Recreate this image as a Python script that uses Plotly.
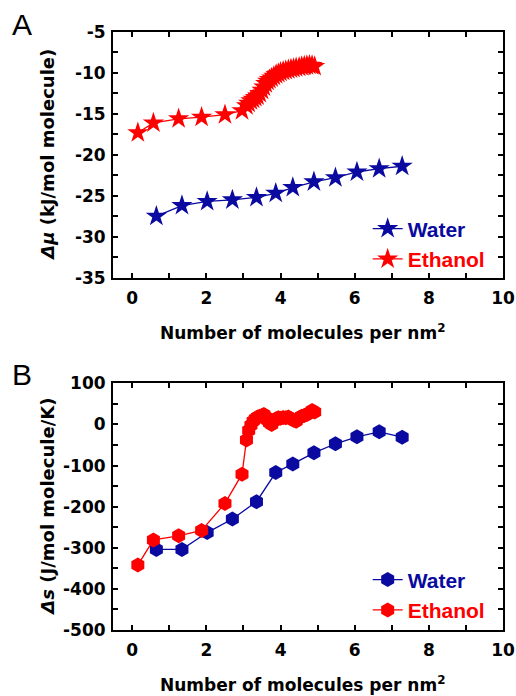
import plotly.graph_objects as go

# ---------------- data ----------------
water_x = [0.65, 1.34, 2.02, 2.70, 3.35, 3.87, 4.33, 4.90, 5.48, 6.06, 6.66, 7.28]
water_mu = [-27.5, -26.2, -25.7, -25.5, -25.2, -24.7, -24.0, -23.3, -22.8, -22.1, -21.7, -21.4]
water_s = [-304, -304, -263, -230, -188, -117, -96, -69, -47, -30, -18, -31]

ethanol_x = [0.15, 0.57, 1.25, 1.87, 2.50, 2.96, 3.08, 3.14, 3.20, 3.26, 3.32, 3.38,
             3.44, 3.50, 3.55, 3.60, 3.65, 3.70, 3.76, 3.82, 3.88, 3.94, 4.00, 4.07,
             4.14, 4.21, 4.28, 4.35, 4.42, 4.50, 4.57, 4.64, 4.71, 4.78, 4.85, 4.92]
ethanol_mu = [-17.3, -16.1, -15.6, -15.4, -15.1, -14.6, -14.0, -13.7, -13.4, -13.2, -13.0, -12.8,
              -12.5, -12.1, -11.7, -11.3, -11.0, -10.8, -10.6, -10.4, -10.2, -10.05, -9.9, -9.8,
              -9.7, -9.6, -9.5, -9.45, -9.35, -9.3, -9.2, -9.15, -9.1, -9.05, -9.1, -9.2]
ethanol_s = [-342, -281, -271, -258, -192, -121, -38, -15, -2, 8, 14, 18,
             20, 22, 24, 18, 10, 4, 0, 8, 14, 16, 15, 17,
             16, 18, 14, 10, 8, 16, 20, 22, 24, 28, 34, 30]

x_ticks = [0, 2, 4, 6, 8, 10]
mu_ticks = [-35, -30, -25, -20, -15, -10, -5]
s_ticks = [-500, -400, -300, -200, -100, 0, 100]

BLUE = "#0A0AA0"
RED = "#FF0000"

# ---------------- figure ----------------
fig = go.Figure()

def add(x, y, color, symbol, name, xa, ya, legend, size):
    fig.add_trace(go.Scatter(
        x=x, y=y, mode="lines+markers",
        line=dict(color=color, width=1.3),
        marker=dict(symbol=symbol, size=size, color=color, line=dict(width=0)),
        name=f"<span style='color:{color}'>{name}</span>",
        xaxis=xa, yaxis=ya, legend=legend, showlegend=True,
    ))

add(water_x, water_mu, BLUE, "star", "Water", "x", "y", "legend", 16)
add(ethanol_x, ethanol_mu, RED, "star", "Ethanol", "x", "y", "legend", 16)
add(water_x, water_s, BLUE, "hexagon", "Water", "x2", "y2", "legend2", 15)
add(ethanol_x, ethanol_s, RED, "hexagon", "Ethanol", "x2", "y2", "legend2", 15)

TICKFONT = dict(family="DejaVu Sans", size=17, color="black", weight="bold")
TITLEFONT = dict(family="DejaVu Sans", size=17, color="black", weight="bold")
YTITLEFONT = dict(family="DejaVu Sans", size=18, color="black", weight="bold")
LEGFONT = dict(family="Liberation Sans, Arial", size=21, weight="bold")

def xaxis(anchor):
    return dict(
        range=[-0.52, 10], tickvals=x_ticks, ticktext=[str(v) for v in x_ticks],
        ticks="inside", ticklen=5, tickwidth=1.5, tickcolor="black",
        minor=dict(ticks="inside", ticklen=5, tickwidth=1.5, tickcolor="black", dtick=1, tick0=0),
        showline=True, linewidth=2, linecolor="black", mirror="ticks",
        showgrid=False, zeroline=False, tickfont=TICKFONT, anchor=anchor,
        ticklabelstandoff=4, automargin=False,
    )

def yaxis(anchor, domain, rng, vals, minor_dtick):
    return dict(
        domain=domain, range=rng, tickvals=vals, ticktext=[str(v) for v in vals],
        ticks="inside", ticklen=5, tickwidth=1.5, tickcolor="black",
        minor=dict(ticks="inside", ticklen=5, tickwidth=1.5, tickcolor="black",
                   dtick=minor_dtick, tick0=0),
        showline=True, linewidth=2, linecolor="black", mirror="ticks",
        showgrid=False, zeroline=False, tickfont=TICKFONT, anchor=anchor,
        ticklabelstandoff=2, automargin=False,
    )

A_dom = [0.5893, 1.0]
B_dom = [0.0, 0.4125]

fig.update_layout(
    width=516, height=696,
    margin=dict(l=113, r=13, t=32, b=66, autoexpand=False),
    paper_bgcolor="white", plot_bgcolor="white",
    xaxis=xaxis("y"),
    yaxis=yaxis("x", A_dom, [-35, -5], mu_ticks, 2.5),
    xaxis2=xaxis("y2"),
    yaxis2=yaxis("x2", B_dom, [-500, 100], s_ticks, 50),
    legend=dict(x=0.653, y=0.705, xanchor="left", yanchor="top",
                bgcolor="rgba(0,0,0,0)", font=LEGFONT, tracegroupgap=0,
                itemwidth=30),
    legend2=dict(x=0.653, y=0.118, xanchor="left", yanchor="top",
                 bgcolor="rgba(0,0,0,0)", font=LEGFONT, tracegroupgap=0,
                 itemwidth=30),
    showlegend=True,
)

ann = []
# y titles
ann.append(dict(text="<i>Δμ</i> (kJ/mol molecule)", xref="paper", yref="paper",
                x=0, y=(A_dom[0] + A_dom[1]) / 2, xanchor="center", yanchor="middle",
                xshift=-65, textangle=-90, showarrow=False, font=YTITLEFONT))
ann.append(dict(text="<i>Δs</i> (J/mol molecule/K)", xref="paper", yref="paper",
                x=0, y=(B_dom[0] + B_dom[1]) / 2, xanchor="center", yanchor="middle",
                xshift=-65, textangle=-90, showarrow=False, font=YTITLEFONT))
# x titles
for dom in (A_dom, B_dom):
    ann.append(dict(text="Number of molecules per nm<sup>2</sup>", xref="paper", yref="paper",
                    x=0.487, y=dom[0], xanchor="center", yanchor="middle", yshift=-54,
                    showarrow=False, font=TITLEFONT))
# panel labels
ann.append(dict(text="A", xref="paper", yref="paper", x=0, y=1, xanchor="center",
                yanchor="middle", xshift=-91, yshift=8, showarrow=False,
                font=dict(family="Liberation Sans, Arial", size=30, color="black")))
ann.append(dict(text="B", xref="paper", yref="paper", x=0, y=B_dom[1], xanchor="center",
                yanchor="middle", xshift=-91, yshift=9, showarrow=False,
                font=dict(family="Liberation Sans, Arial", size=30, color="black")))
fig.update_layout(annotations=ann)

fig.write_html(
    "out.html",
    config={"displayModeBar": False},
    post_script="document.body.style.margin='0';document.body.style.padding='0';"
                "document.body.style.overflow='hidden';"
                "document.documentElement.style.overflow='hidden';",
)
